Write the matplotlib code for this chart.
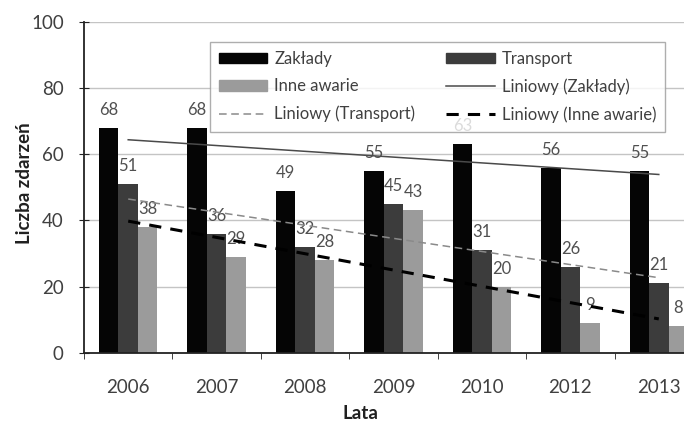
import numpy as np
import matplotlib
matplotlib.use("Agg")
import matplotlib.pyplot as plt
from matplotlib.lines import Line2D
from matplotlib.patches import Patch

plt.rcParams["font.family"] = ["Lato", "DejaVu Sans"]

# data
years = ["2006", "2007", "2008", "2009", "2010", "2012", "2013"]
zaklady = [68, 68, 49, 55, 63, 56, 55]
transport = [51, 36, 32, 45, 31, 26, 21]
inne = [38, 29, 28, 43, 20, 9, 8]

series_names = ["Zakłady", "Transport", "Inne awarie"]
colors = ["#050505", "#3c3c3c", "#9b9b9b"]

W, H = 684, 422
fig = plt.figure(figsize=(W / 100, H / 100), dpi=100)
# plot area is cut off on the right in the reference
ax = fig.add_axes([84 / W, (H - 352.7) / H, 619 / W, 330.7 / H])

x = np.arange(len(years))
bw = 0.22
for i, (vals, col) in enumerate(zip([zaklady, transport, inne], colors)):
    pos = x + (i - 1) * bw
    ax.bar(pos, vals, width=bw, color=col, zorder=2)
    for px, v in zip(pos, vals):
        ax.annotate(str(v), (px, v), xytext=(0, 18), textcoords="offset pixels",
                    ha="center", va="center", fontsize=12, color="#505050", zorder=3)

# linear trend lines (Excel "Liniowy")
trend_styles = [
    dict(color="#4a4a4a", lw=1.1, ls="-"),
    dict(color="#8a8a8a", lw=1.1, ls=(0, (5, 3))),
    dict(color="#000000", lw=2.2, ls=(0, (4, 3))),
]
for vals, st in zip([zaklady, transport, inne], trend_styles):
    k, b = np.polyfit(x, vals, 1)
    ax.plot(x, k * x + b, zorder=4, **st)

ax.set_xlim(-0.5, len(years) - 0.5)
ax.set_ylim(0, 100)
ax.set_yticks(range(0, 101, 20))
ax.yaxis.grid(True, color="#c4c4c4", lw=1.0, zorder=0)
ax.set_axisbelow(True)

ax.set_xticks(x)
ax.set_xticklabels(years)
ax.set_xticks(np.arange(len(years) + 1) - 0.5, minor=True)
ax.tick_params(axis="x", which="major", length=0, pad=19, labelsize=13.5, labelcolor="#404040")
ax.tick_params(axis="x", which="minor", length=4, direction="out", color="#222222")
ax.tick_params(axis="y", length=7, direction="inout", pad=11, labelsize=13.5,
               labelcolor="#404040", color="#222222")

for s in ["top", "right"]:
    ax.spines[s].set_visible(False)
ax.spines["left"].set_color("#222222")
ax.spines["bottom"].set_color("#222222")
ax.spines["left"].set_linewidth(1.3)
ax.spines["bottom"].set_linewidth(1.3)

ax.set_ylabel("Liczba zdarzeń", fontsize=13.5, fontweight="bold", color="#202020")
ax.yaxis.set_label_coords(-0.082, 0.513)
ax.set_xlabel("Lata", fontsize=13.5, fontweight="bold", color="#202020")
ax.xaxis.set_label_coords((360 - 84) / 619, -0.157)

# legend, filled column-wise
h_bar = [Patch(color=c) for c in colors]
h_trend = [Line2D([], [], **st) for st in trend_styles]
handles = [h_bar[0], h_bar[2], h_trend[1], h_bar[1], h_trend[0], h_trend[2]]
labels = ["Zakłady", "Inne awarie", "Liniowy (Transport)",
          "Transport", "Liniowy (Zakłady)", "Liniowy (Inne awarie)"]
leg = ax.legend(handles, labels, ncol=2, loc="upper left", bbox_to_anchor=(0.2035, 0.94),
                borderaxespad=0, fontsize=12, frameon=True, fancybox=False,
                edgecolor="#9a9a9a", handlelength=2.9, handleheight=0.6, handletextpad=0.42,
                columnspacing=1.85, labelspacing=0.68, borderpad=0.55)
leg.get_frame().set_linewidth(1.0)
for t in leg.get_texts():
    t.set_color("#404040")

fig.savefig("out.png", dpi=100)
